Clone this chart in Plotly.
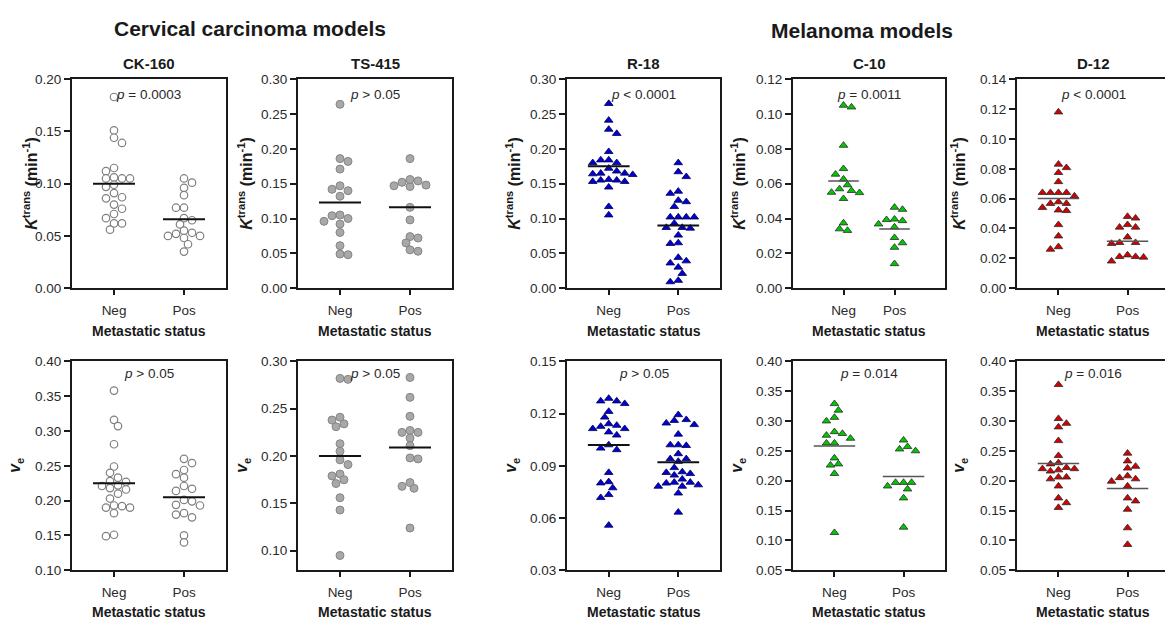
import plotly.graph_objects as go

W, H = 1165, 630
FONT = "Arial, 'Liberation Sans', sans-serif"

# ---------------- data ----------------
categories = ["Neg", "Pos"]
models = ["CK-160", "TS-415", "R-18", "C-10", "D-12"]
group_titles = ["Cervical carcinoma models", "Melanoma models"]
x_title = "Metastatic status"

# Ktrans (min^-1)
ck160_kt_neg = [0.183, 0.151, 0.144, 0.139, 0.115, 0.112, 0.105, 0.105, 0.106, 0.105, 0.097,
                0.099, 0.091, 0.086, 0.087, 0.080, 0.076, 0.071, 0.067, 0.062, 0.062, 0.056]
ck160_kt_pos = [0.105, 0.101, 0.096, 0.089, 0.077, 0.077, 0.067, 0.065, 0.061, 0.055, 0.050,
                0.050, 0.052, 0.053, 0.048, 0.042, 0.035]
ts415_kt_neg = [0.264, 0.186, 0.182, 0.171, 0.147, 0.140, 0.142, 0.132, 0.104, 0.105, 0.100,
                0.092, 0.096, 0.080, 0.061, 0.048, 0.049]
ts415_kt_pos = [0.186, 0.146, 0.152, 0.148, 0.154, 0.147, 0.156, 0.116, 0.098, 0.072, 0.074,
                0.065, 0.053, 0.055]
r18_kt_neg = [0.265, 0.241, 0.222, 0.228, 0.196, 0.184, 0.184, 0.180, 0.180, 0.172, 0.168,
              0.165, 0.165, 0.163, 0.164, 0.153, 0.153, 0.155, 0.155, 0.156, 0.145, 0.117, 0.105]
r18_kt_pos = [0.180, 0.167, 0.160, 0.136, 0.139, 0.124, 0.126, 0.117, 0.102, 0.102, 0.102,
              0.102, 0.093, 0.087, 0.086, 0.087, 0.076, 0.064, 0.065, 0.044, 0.036, 0.039,
              0.030, 0.021, 0.009, 0.011]
c10_kt_neg = [0.104, 0.105, 0.082, 0.0686, 0.0654, 0.0626, 0.0593, 0.0548, 0.056, 0.057,
              0.055, 0.0514, 0.0374, 0.0331, 0.034]
c10_kt_pos = [0.0452, 0.0464, 0.0393, 0.0387, 0.0396, 0.0368, 0.0351, 0.029, 0.026, 0.0234, 0.014]
d12_kt_neg = [0.118, 0.0807, 0.083, 0.0774, 0.0713, 0.064, 0.064, 0.064, 0.064, 0.0617,
              0.0567, 0.0578, 0.0567, 0.054, 0.0519, 0.0523, 0.0425, 0.0349, 0.026, 0.0277]
d12_kt_pos = [0.0469, 0.048, 0.0408, 0.0425, 0.0408, 0.0342, 0.0299, 0.0305, 0.0305, 0.0211,
              0.0222, 0.0181, 0.0207, 0.0211]

# ve
ck160_ve_neg = [0.358, 0.316, 0.307, 0.281, 0.249, 0.240, 0.228, 0.233, 0.227, 0.222, 0.221,
                0.216, 0.218, 0.210, 0.203, 0.190, 0.190, 0.193, 0.192, 0.182, 0.149, 0.151]
ck160_ve_pos = [0.260, 0.254, 0.244, 0.238, 0.233, 0.221, 0.217, 0.214, 0.199, 0.201, 0.193,
                0.194, 0.182, 0.180, 0.176, 0.150, 0.140]
ts415_ve_neg = [0.281, 0.282, 0.241, 0.238, 0.234, 0.231, 0.213, 0.205, 0.196, 0.191, 0.181,
                0.179, 0.175, 0.171, 0.156, 0.143, 0.095]
ts415_ve_pos = [0.283, 0.262, 0.242, 0.225, 0.225, 0.227, 0.219, 0.211, 0.197, 0.198, 0.168,
                0.166, 0.172, 0.124]
r18_ve_neg = [0.1257, 0.1272, 0.1272, 0.1287, 0.1212, 0.1179, 0.1113, 0.1132, 0.1141, 0.1126,
              0.1113, 0.1094, 0.1076, 0.1001, 0.102, 0.0992, 0.0861, 0.0801, 0.0808, 0.0773,
              0.0717, 0.0734, 0.0558]
r18_ve_pos = [0.1193, 0.1160, 0.1165, 0.1136, 0.1145, 0.1081, 0.1020, 0.1016, 0.1020, 0.0969,
              0.0940, 0.0925, 0.0940, 0.0889, 0.0861, 0.0865, 0.0846, 0.0855, 0.0782, 0.0805,
              0.0782, 0.0805, 0.0800, 0.0823, 0.0790, 0.0743, 0.0633]
c10_ve_neg = [0.329, 0.318, 0.306, 0.300, 0.279, 0.282, 0.276, 0.271, 0.263, 0.263, 0.238,
              0.226, 0.228, 0.212, 0.113]
c10_ve_pos = [0.268, 0.250, 0.257, 0.253, 0.197, 0.197, 0.197, 0.191, 0.186, 0.171, 0.122]
d12_ve_neg = [0.361, 0.296, 0.304, 0.290, 0.267, 0.242, 0.228, 0.230, 0.218, 0.220, 0.220,
              0.222, 0.216, 0.206, 0.203, 0.206, 0.191, 0.171, 0.163, 0.155]
d12_ve_pos = [0.246, 0.233, 0.221, 0.224, 0.205, 0.199, 0.203, 0.208, 0.191, 0.166, 0.171,
              0.152, 0.121, 0.093]

# group centre lines [Neg, Pos]
kt_lines = [[0.100, 0.066], [0.123, 0.116], [0.175, 0.090], [0.0615, 0.034], [0.060, 0.0315]]
ve_lines = [[0.225, 0.205], [0.200, 0.209], [0.102, 0.092], [0.258, 0.207], [0.229, 0.187]]

# p-value texts
kt_p = ["= 0.0003", "> 0.05", "< 0.0001", "= 0.0011", "< 0.0001"]
ve_p = ["> 0.05", "> 0.05", "> 0.05", "= 0.014", "= 0.016"]

# axis ranges / tick steps
kt_yrange = [[0, 0.20], [0, 0.30], [0, 0.30], [0, 0.12], [0, 0.14]]
kt_dtick = [0.05, 0.05, 0.05, 0.02, 0.02]
ve_yrange = [[0.10, 0.40], [0.0794, 0.30], [0.03, 0.15], [0.05, 0.40], [0.05, 0.40]]
ve_dtick = [0.05, 0.05, 0.03, 0.05, 0.05]
ve_tick0 = [0.10, 0.10, 0.03, 0.05, 0.05]

kt_data = [(ck160_kt_neg, ck160_kt_pos), (ts415_kt_neg, ts415_kt_pos), (r18_kt_neg, r18_kt_pos),
           (c10_kt_neg, c10_kt_pos), (d12_kt_neg, d12_kt_pos)]
ve_data = [(ck160_ve_neg, ck160_ve_pos), (ts415_ve_neg, ts415_ve_pos), (r18_ve_neg, r18_ve_pos),
           (c10_ve_neg, c10_ve_pos), (d12_ve_neg, d12_ve_pos)]

# ---------------- layout geometry (pixels) ----------------
col_x = [(72, 226), (298, 452), (567, 720), (793, 945), (1017, 1169)]
row_y = [(74, 288), (363, 577)]
kt_xrange = [[-0.6, 1.6], [-0.6, 1.6], [-0.6, 1.6], [-0.99, 1.99], [-0.6, 1.6]]
ve_xrange = [[-0.6, 1.6]] * 5
ytitle_x = [[30, 245, 513, 738, 958], [16, 243, 512, 738, 960]]

styles = {
    "CK-160": dict(symbol="circle", size=7.5, color="white", line=dict(color="#808080", width=1.2)),
    "TS-415": dict(symbol="circle", size=8, color="#a8a8a8", line=dict(color="#858585", width=1)),
    "R-18": dict(symbol="triangle-up", size=7.5, color="#0000d2", line=dict(color="#000050", width=0.8)),
    "C-10": dict(symbol="triangle-up", size=7.5, color="#00c800", line=dict(color="#2a2a2a", width=0.8)),
    "D-12": dict(symbol="triangle-up", size=7.5, color="#d40000", line=dict(color="#2a2a2a", width=0.8)),
}
line_styles = {
    "CK-160": dict(color="#111111", width=2),
    "TS-415": dict(color="#111111", width=2),
    "R-18": dict(color="#111111", width=2),
    "C-10": dict(color="#555555", width=1.5),
    "D-12": dict(color="#555555", width=1.5),
}


def swarm_offsets(vals, ypx, step, dmin):
    """Greedy swarm on a half-step grid (pixels), alternating sides on ties."""
    ys = [v * ypx for v in vals]
    order = sorted(range(len(vals)), key=lambda i: -ys[i])
    placed, xs = [], [0.0] * len(vals)
    side = 1
    for i in order:
        y = ys[i]
        k = 0
        chosen = None
        while chosen is None:
            opts = [0.0] if k == 0 else [side * k * step, -side * k * step]
            for c in opts:
                if all((c - a) ** 2 + (y - b) ** 2 >= dmin * dmin for a, b in placed):
                    chosen = c
                    break
            k += 1
        if chosen != 0:
            side = -1 if chosen > 0 else 1
        xs[i] = chosen
        placed.append((chosen, y))
    return xs


fig = go.Figure()
layout = {}
annotations = []


def px2x(px):
    return px / W


def px2y(py):
    return 1 - py / H


idx = 0
for r in range(2):
    data = kt_data if r == 0 else ve_data
    lines = kt_lines if r == 0 else ve_lines
    yranges = kt_yrange if r == 0 else ve_yrange
    xranges = kt_xrange if r == 0 else ve_xrange
    ptexts = kt_p if r == 0 else ve_p
    for c in range(5):
        idx += 1
        name = models[c]
        x0, x1 = col_x[c]
        y0, y1 = row_y[r]
        xr = list(xranges[c])
        yr = yranges[c]
        ppx = (x1 - x0) / (xr[1] - xr[0])
        ppy = (y1 - y0) / (yr[1] - yr[0])
        clip = False
        if x1 > W:
            xr[1] = xr[0] + (W - x0) / ppx
            x1 = W
            clip = True
        xa = "x" if idx == 1 else f"x{idx}"
        ya = "y" if idx == 1 else f"y{idx}"
        st = styles[name]
        for k, vals in enumerate(data[c]):
            offs = swarm_offsets(vals, ppy, 4.0, 7.0)
            xs = [k + o / ppx for o in offs]
            fig.add_trace(go.Scatter(
                x=xs, y=vals, mode="markers", xaxis=xa, yaxis=ya, showlegend=False,
                marker=dict(symbol=st["symbol"], size=st["size"], color=st["color"],
                            line=st["line"]),
                cliponaxis=False, hoverinfo="y"))
        lx, ly = [], []
        for k, m in enumerate(lines[c]):
            lx += [k - 0.3, k + 0.3, None]
            ly += [m, m, None]
        fig.add_trace(go.Scatter(x=lx, y=ly, mode="lines", xaxis=xa, yaxis=ya,
                                 showlegend=False, line=line_styles[name], hoverinfo="skip"))

        dom_x = [px2x(x0), px2x(x1)]
        dom_y = [px2y(y1), px2y(y0)]
        xkey = "xaxis" if idx == 1 else f"xaxis{idx}"
        ykey = "yaxis" if idx == 1 else f"yaxis{idx}"
        layout[xkey] = dict(
            domain=dom_x, anchor=ya, range=xr, tickmode="array", tickvals=[0, 1],
            ticktext=categories, showgrid=False, zeroline=False, showline=True,
            linecolor="#1a1a1a", linewidth=2, mirror=True, ticks="outside", ticklen=5,
            tickwidth=1.5, tickcolor="#1a1a1a", ticklabelstandoff=4,
            tickfont=dict(family=FONT, size=13.5, color="#2a2a2a"), fixedrange=True)
        if r == 0:
            tick0, dt = 0.0, kt_dtick[c]
        else:
            tick0, dt = ve_tick0[c], ve_dtick[c]
        layout[ykey] = dict(
            domain=dom_y, anchor=xa, range=yr, tickmode="linear", tick0=tick0, dtick=dt,
            tickformat=".2f", showgrid=False, zeroline=False, showline=True,
            linecolor="#1a1a1a", linewidth=2, mirror=(not clip), ticks="outside", ticklen=6,
            tickwidth=1.5, tickcolor="#1a1a1a",
            tickfont=dict(family=FONT, size=13.5, color="#2a2a2a"), fixedrange=True)

        cx = (col_x[c][0] + col_x[c][1]) / 2
        annotations.append(dict(
            x=px2x(cx), y=px2y(90 if r == 0 else 375), xref="paper", yref="paper",
            text=f"<i>p</i> {ptexts[c]}", showarrow=False, xanchor="center", yanchor="middle",
            font=dict(family=FONT, size=13.5, color="#2a2a2a")))
        annotations.append(dict(
            x=px2x(cx), y=px2y(332 if r == 0 else 620), xref="paper", yref="paper",
            text=f"<b>{x_title}</b>", showarrow=False, xanchor="center", yanchor="middle",
            font=dict(family=FONT, size=14, color="#1a1a1a")))
        ytxt = ("<b><i>K</i><sup>trans</sup> (min<sup>-1</sup>)</b>" if r == 0
                else "<b><i>v</i><sub>e</sub></b>")
        annotations.append(dict(
            x=px2x(ytitle_x[r][c]), y=px2y((y0 + y1) / 2), xref="paper", yref="paper",
            text=ytxt, showarrow=False, textangle=-90, xanchor="center", yanchor="middle",
            font=dict(family=FONT, size=16, color="#1a1a1a")))
        if r == 0:
            annotations.append(dict(
                x=px2x(cx), y=px2y(58), xref="paper", yref="paper",
                text=f"<b>{name}</b>", showarrow=False, xanchor="center", yanchor="middle",
                font=dict(family=FONT, size=15, color="#1a1a1a")))

annotations.append(dict(x=px2x(250), y=px2y(22), xref="paper", yref="paper",
                        text=f"<b>{group_titles[0]}</b>", showarrow=False,
                        xanchor="center", yanchor="middle",
                        font=dict(family=FONT, size=21, color="#1a1a1a")))
annotations.append(dict(x=px2x(862), y=px2y(24), xref="paper", yref="paper",
                        text=f"<b>{group_titles[1]}</b>", showarrow=False,
                        xanchor="center", yanchor="middle",
                        font=dict(family=FONT, size=21, color="#1a1a1a")))

fig.update_layout(
    width=W, height=H, autosize=False,
    margin=dict(l=0, r=0, t=0, b=0, pad=0),
    paper_bgcolor="white", plot_bgcolor="white",
    annotations=annotations, showlegend=False,
    font=dict(family=FONT),
    **layout)

fig.write_html("out.html", include_plotlyjs=True,
               config={"displayModeBar": False},
               post_script="document.body.style.margin='0';document.body.style.overflow='hidden';")
